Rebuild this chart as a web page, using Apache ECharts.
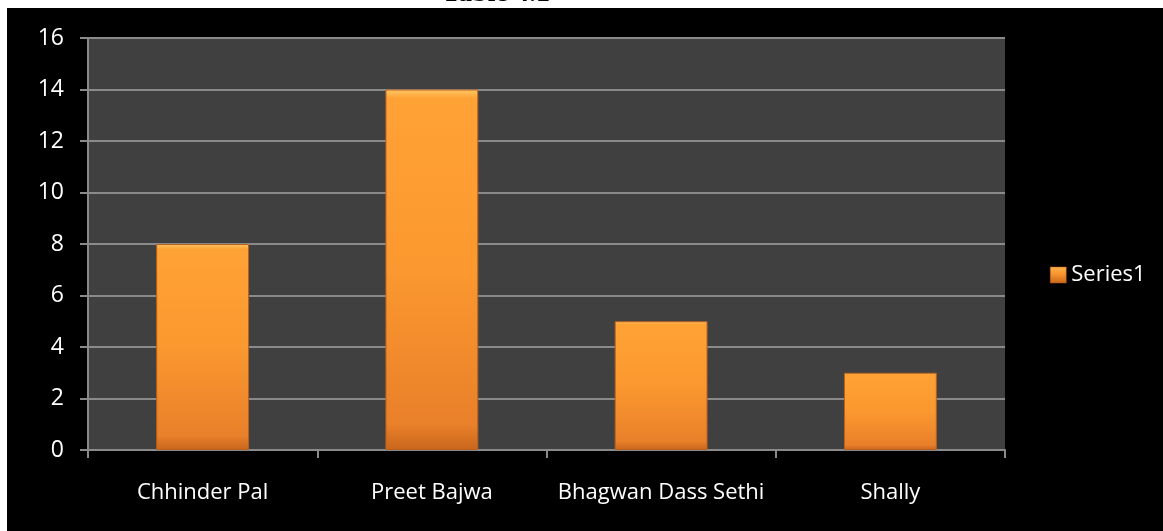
<!DOCTYPE html>
<html>
<head>
<meta charset="utf-8">
<script src="https://cdn.jsdelivr.net/npm/echarts@6/dist/echarts.min.js"></script>
<style>
  html, body { margin: 0; padding: 0; background: #ffffff; }
  #chart { width: 1163px; height: 531px; }
</style>
</head>
<body>
<div id="chart"></div>
<script>
// Names on the category axis
const categories = ['Chhinder Pal', 'Preet Bajwa', 'Bhagwan Dass Sethi', 'Shally'];
// Values for Series1
const series1 = [8, 14, 5, 3];
// Value axis range
const yMin = 0;
const yMax = 16;
const yStep = 2;

const chart = echarts.init(document.getElementById('chart'), null, { renderer: 'canvas' });

const barFill = new echarts.graphic.LinearGradient(0, 0, 0, 1, [
  { offset: 0, color: '#ffc766' },
  { offset: 0.025, color: '#ffa235' },
  { offset: 0.5, color: '#fb982f' },
  { offset: 0.93, color: '#e9802a' },
  { offset: 1, color: '#c8661c' }
]);

const legendFill = new echarts.graphic.LinearGradient(0, 0, 0, 1, [
  { offset: 0, color: '#ffb24a' },
  { offset: 0.5, color: '#f5902c' },
  { offset: 1, color: '#c8661c' }
]);

const labelFont = 'Open Sans, Noto Sans, Liberation Sans, sans-serif';

chart.setOption({
  backgroundColor: '#ffffff',
  animation: false,
  graphic: [
    {
      type: 'rect',
      z: -10,
      silent: true,
      shape: { x: 7, y: 8, width: 1163, height: 531 },
      style: { fill: '#000000' }
    },
    {
      type: 'text',
      z: -5,
      silent: true,
      x: 442,
      y: -20,
      style: {
        text: 'Table 4.1',
        fill: '#000000',
        font: 'bold 28px "Liberation Serif", "DejaVu Serif", serif'
      }
    }
  ],
  grid: {
    left: 88,
    right: 158,
    top: 38,
    bottom: 81,
    show: true,
    backgroundColor: '#404040',
    borderWidth: 0
  },
  legend: {
    show: true,
    left: 1045,
    top: 259,
    orient: 'vertical',
    itemWidth: 16,
    itemHeight: 16,
    itemGap: 6,
    textStyle: { color: '#ffffff', fontSize: 22, fontFamily: labelFont },
    data: [{ name: 'Series1', icon: 'rect', itemStyle: { color: legendFill, borderColor: '#b35a18', borderWidth: 0.5 } }]
  },
  xAxis: {
    type: 'category',
    data: categories,
    axisLine: { show: true, lineStyle: { color: '#8a8a8a', width: 2 } },
    axisTick: { show: true, interval: 0, length: 8, alignWithLabel: false, lineStyle: { color: '#8a8a8a', width: 2 } },
    axisLabel: {
      color: '#ffffff',
      fontSize: 22,
      fontFamily: labelFont,
      interval: 0,
      hideOverlap: false,
      margin: 32
    },
    splitLine: { show: false }
  },
  yAxis: {
    type: 'value',
    min: yMin,
    max: yMax,
    interval: yStep,
    axisLine: { show: true, lineStyle: { color: '#8a8a8a', width: 2 } },
    axisTick: { show: true, length: 8, lineStyle: { color: '#8a8a8a', width: 2 } },
    axisLabel: {
      color: '#ffffff',
      fontSize: 23,
      fontFamily: labelFont,
      margin: 24
    },
    splitLine: { show: true, lineStyle: { color: '#8a8a8a', width: 2 } }
  },
  series: [
    {
      name: 'Series1',
      type: 'bar',
      data: series1,
      barWidth: '40.5%',
      itemStyle: {
        color: barFill,
        borderColor: '#b8601c',
        borderWidth: 1
      }
    }
  ]
});
</script>
</body>
</html>
